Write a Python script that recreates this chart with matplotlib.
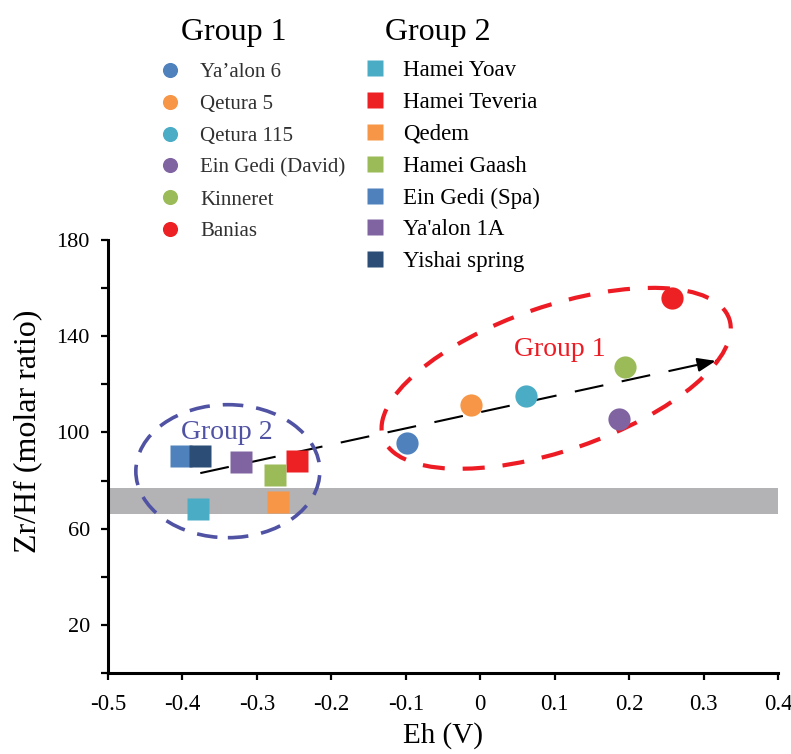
import numpy as np
import matplotlib
matplotlib.use('Agg')
import matplotlib.pyplot as plt
from matplotlib.patches import Ellipse
from matplotlib.transforms import ScaledTranslation

plt.rcParams['font.family'] = ['Liberation Serif', 'DejaVu Serif']

# Group 1 (circles)
g1_names = ['Ya\u2019alon 6', 'Qetura 5', 'Qetura 115', 'Ein Gedi (David)', 'Kinneret', 'Banias']
g1_eh = [-0.098, -0.013, 0.062, 0.187, 0.194, 0.258]
g1_zrhf = [95.5, 111.3, 115.0, 105.5, 127.1, 155.7]
g1_colors = ['#4F81BD', '#F79646', '#4BACC6', '#8064A2', '#9BBB59', '#ED2024']

# Group 2 (squares)
g2_names = ['Hamei Yoav', 'Hamei Teveria', 'Qedem', 'Hamei Gaash', 'Ein Gedi (Spa)', "Ya'alon 1A", 'Yishai spring']
g2_eh = [-0.379, -0.246, -0.272, -0.276, -0.402, -0.321, -0.376]
g2_zrhf = [68.1, 88.0, 71.0, 82.2, 90.1, 87.6, 90.1]
g2_colors = ['#4BACC6', '#ED2024', '#F79646', '#9BBB59', '#4F81BD', '#8064A2', '#2C4D75']

# gray band (typical Zr/Hf range) and trend arrow
band = (66, 77)
arrow_start = (-0.376, 83.1)
arrow_end = (0.320, 130.0)

x_ticks = [-0.5, -0.4, -0.3, -0.2, -0.1, 0, 0.1, 0.2, 0.3, 0.4]
x_labels = ['-0.5', '-0.4', '-0.3', '-0.2', '-0.1', '0', '0.1', '0.2', '0.3', '0.4']
y_major = [20, 60, 100, 140, 180]
y_minor = [0, 40, 80, 120, 160]

fig = plt.figure(figsize=(7.91, 7.54), dpi=100)
ax = fig.add_axes([0.1365, 0.1074, 0.8471, 0.5743])
ax.set_xlim(-0.5, 0.4)
ax.set_ylim(0, 180)

ax.axhspan(band[0], band[1], color='#B3B3B6', lw=0, zorder=1)

# dashed trend line + arrow head
ax.plot([arrow_start[0], arrow_end[0]], [arrow_start[1], arrow_end[1]],
        color='k', lw=1.5, linestyle=(0, (14, 9)), zorder=2)
dx = arrow_end[0] - arrow_start[0]
dy = arrow_end[1] - arrow_start[1]
ax.annotate('', xy=arrow_end, xytext=(arrow_end[0] - 0.03 * dx, arrow_end[1] - 0.03 * dy),
            arrowprops=dict(arrowstyle='-|>,head_length=1.1,head_width=0.42', color='k', lw=1.5),
            zorder=2)

# group ellipses (sized in inches, anchored at data centre)
e1 = Ellipse((0, 0), 3.66, 1.44, angle=19, fill=False, edgecolor='#ED1C24', lw=3,
             linestyle=(0, (5.3, 4.3)),
             transform=fig.dpi_scale_trans + ScaledTranslation(0.102, 122.5, ax.transData), zorder=3)
e2 = Ellipse((0, 0), 1.84, 1.33, angle=0, fill=False, edgecolor='#5052A3', lw=2.6,
             linestyle=(0, (5.7, 3.6)),
             transform=fig.dpi_scale_trans + ScaledTranslation(-0.339, 83.9, ax.transData), zorder=3)
ax.add_patch(e1)
ax.add_patch(e2)

ax.text(0.1075, 134.5, 'Group 1', color='#ED1C24', fontsize=20, ha='center', va='center', zorder=3)
ax.text(-0.34, 100.1, 'Group 2', color='#5052A3', fontsize=20, ha='center', va='center', zorder=3)

h1 = []
for name, x, y, c in zip(g1_names, g1_eh, g1_zrhf, g1_colors):
    h, = ax.plot(x, y, 'o', ms=16, color=c, mec='none', label=name, zorder=4)
    h1.append(h)
h2 = []
for name, x, y, c in zip(g2_names, g2_eh, g2_zrhf, g2_colors):
    h, = ax.plot(x, y, 's', ms=16, color=c, mec='none', label=name, zorder=4)
    h2.append(h)

# axes styling
for s in ['top', 'right']:
    ax.spines[s].set_visible(False)
for s in ['left', 'bottom']:
    ax.spines[s].set_linewidth(2.2)
ax.set_xticks(x_ticks)
ax.set_xticklabels(x_labels)
ax.set_yticks(y_major)
ax.set_yticks(y_minor, minor=True)
ax.tick_params(which='both', direction='out', length=5, width=1.6, labelsize=16, pad=8)
ax.tick_params(axis='x', pad=10, labelsize=16.5)
ax.set_xlabel('Eh (V)', fontsize=21, labelpad=5)
ax.set_ylabel('Zr/Hf (molar ratio)', fontsize=23)
ax.yaxis.set_label_coords(-0.0975, 0.559)

# legends
leg1 = fig.legend(handles=h1, loc='upper left', bbox_to_anchor=(0.2018, 0.9171), frameon=False,
                  fontsize=15, markerscale=0.68, handlelength=1.0, handletextpad=0.94,
                  labelspacing=0.59, borderpad=0, borderaxespad=0)
for t in leg1.get_texts():
    t.set_color('#303030')
leg2 = fig.legend(handles=h2, loc='upper left', bbox_to_anchor=(0.4625, 0.9201), frameon=False,
                  fontsize=16.5, markerscale=0.68, handlelength=0.8, handletextpad=0.83,
                  labelspacing=0.47, borderpad=0, borderaxespad=0)
fig.text(0.2958, 0.9470, 'Group 1', fontsize=23, ha='center', va='baseline')
fig.text(0.5537, 0.9470, 'Group 2', fontsize=23, ha='center', va='baseline')

fig.savefig('out.png', dpi=100)
